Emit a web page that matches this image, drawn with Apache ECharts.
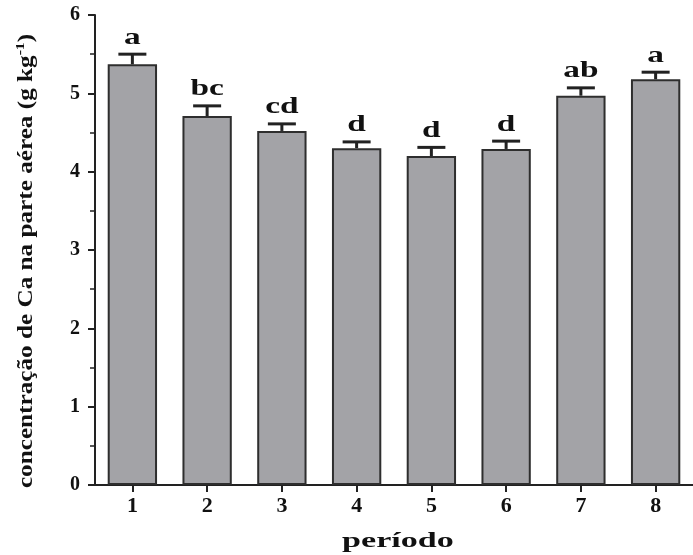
<!DOCTYPE html>
<html>
<head>
<meta charset="utf-8">
<script src="https://cdn.jsdelivr.net/npm/echarts@6/dist/echarts.min.js"></script>
<style>
html,body{margin:0;padding:0;background:#fff;}
#c{width:693px;height:555px;}
</style>
</head>
<body>
<div id="c"></div>
<script>
var categories = ['1','2','3','4','5','6','7','8'];
var values = [5.37, 4.71, 4.52, 4.30, 4.20, 4.29, 4.97, 5.18];
var errors = [0.13, 0.13, 0.09, 0.08, 0.11, 0.10, 0.10, 0.09];
var letters = ['a','bc','cd','d','d','d','ab','a'];
var xTitle = 'período';
var yTitleMain = 'concentração de Ca na parte aérea (g kg';
var yTitleSup = '-1';
var yTitleEnd = ')';

var FONT = '"Liberation Serif", "Times New Roman", serif';
var chart = echarts.init(document.getElementById('c'), null, {renderer:'canvas'});

var errData = values.map(function(v,i){ return [i, v, errors[i]]; });

chart.setOption({
  animation: false,
  grid: {left: 95, top: 15, bottom: 70, right: -10, containLabel: false},
  xAxis: {
    type: 'category',
    data: categories,
    axisLine: {lineStyle: {color: '#222', width: 2}},
    axisTick: {show: true, alignWithLabel: true, length: 7, lineStyle: {color:'#222', width: 2}},
    axisLabel: {fontFamily: FONT, fontWeight: 'bold', fontSize: 22, color: '#111', margin: 10}
  },
  yAxis: {
    type: 'value',
    min: 0, max: 6, interval: 1,
    axisLine: {show: true, lineStyle: {color: '#222', width: 2}},
    axisTick: {show: true, length: 7, lineStyle: {color:'#222', width: 2}},
    minorTick: {show: true, splitNumber: 2, length: 5, lineStyle: {color:'#222', width: 1.5}},
    splitLine: {show: false},
    axisLabel: {fontFamily: FONT, fontWeight: 'bold', fontSize: 20, color: '#111', margin: 15}
  },
  graphic: [
    {
      type: 'text', x: 398, y: 541, scaleX: 1.55,
      style: {text: xTitle, fontFamily: FONT, fontWeight: 'bold', fontSize: 22, fill: '#111', textAlign: 'center', textVerticalAlign: 'middle'}
    },
    {
      type: 'text', x: 27, y: 261, rotation: Math.PI/2, scaleX: 1.2,
      style: {
        text: '{a|' + yTitleMain + '}{s|' + yTitleSup + '}{a|' + yTitleEnd + '}',
        textAlign: 'center', textVerticalAlign: 'middle',
        rich: {
          a: {fontFamily: FONT, fontWeight: 'bold', fontSize: 21, fill: '#111', lineHeight: 26},
          s: {fontFamily: FONT, fontWeight: 'bold', fontSize: 13, fill: '#111', lineHeight: 26, verticalAlign: 'top', padding: [0,0,10,0]}
        }
      }
    }
  ],
  series: [
    {
      type: 'bar',
      data: values,
      barWidth: '66%',
      itemStyle: {color: '#a3a3a7', borderColor: '#2e2e2e', borderWidth: 2}
    },
    {
      type: 'custom',
      data: errData,
      z: 5,
      renderItem: function(params, api){
        var i = api.value(0), v = api.value(1), e = api.value(2);
        var top = api.coord([i, v]);
        var hi = api.coord([i, v + e]);
        var cx = top[0];
        var hw = 14;
        return {
          type: 'group',
          children: [
            {type:'line', shape:{x1:cx, y1:top[1], x2:cx, y2:hi[1]}, style:{stroke:'#222', lineWidth:3}},
            {type:'line', shape:{x1:cx-hw, y1:hi[1], x2:cx+hw, y2:hi[1]}, style:{stroke:'#222', lineWidth:3}},
            {type:'text', x: cx, y: hi[1]-5, scaleX: 1.45, style:{text: letters[params.dataIndex], fontFamily: FONT, fontWeight:'bold', fontSize: 23, fill:'#111', textAlign:'center', textVerticalAlign:'bottom'}}
          ]
        };
      }
    }
  ]
});
</script>
</body>
</html>
